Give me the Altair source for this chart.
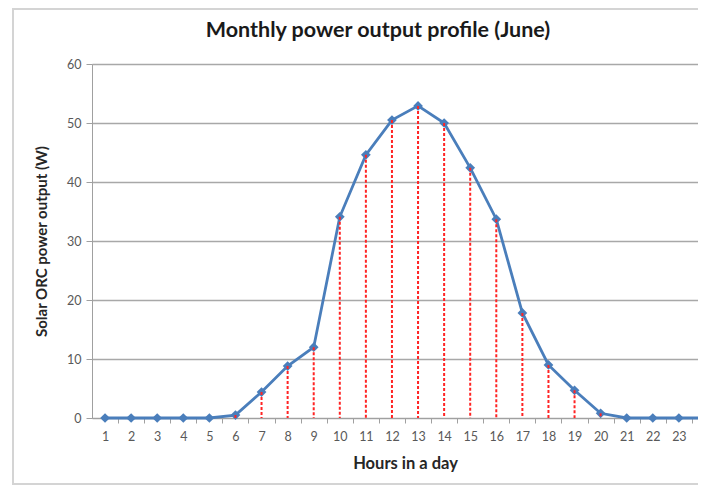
import altair as alt
import pandas as pd

hours = list(range(1, 25))
power = [0, 0, 0, 0, 0, 0.5, 4.4, 8.8, 12.0, 34.1, 44.6, 50.5, 52.9, 50.0,
         42.4, 33.7, 17.8, 9.0, 4.7, 0.8, 0, 0, 0, 0]
y_ticks = [0, 10, 20, 30, 40, 50, 60]
title_text = "Monthly power output profile (June)"

df = pd.DataFrame({"hour": hours, "power": power})

FONT = "Lato"
W, H = 606, 354

x_enc = alt.X(
    "hour:Q",
    scale=alt.Scale(domain=[0.5, 24.5], range=[0, 626], nice=False, zero=False),
    axis=alt.Axis(
        values=hours, title="Hours in a day", grid=False,
        tickOffset=13, labelOffset=-13, tickSize=5, tickColor="#a0a0a0",
        domainColor="#a0a0a0", labelColor="#595959", labelFontSize=12.5,
        labelPadding=7, titleFontSize=16.5, titleFontWeight="bold",
        titleColor="#262626", titlePadding=13, labelFont=FONT, titleFont=FONT,
    ),
)
y_enc = alt.Y(
    "power:Q",
    scale=alt.Scale(domain=[0, 60], nice=False),
    axis=alt.Axis(
        values=y_ticks, title="Solar ORC power output (W)", grid=True,
        gridColor="#a8a8a8", gridWidth=1.3, tickSize=6, tickColor="#a0a0a0",
        domainColor="#a0a0a0", labelColor="#595959", labelFontSize=12.5,
        labelPadding=5, titleFontSize=15, titleFontWeight="bold",
        titleColor="#262626", titlePadding=17, labelFont=FONT, titleFont=FONT,
    ),
)

base = alt.Chart(df)

line = base.mark_line(color="#4a7ebb", strokeWidth=2.8).encode(x=x_enc, y=y_enc)
points = base.mark_point(shape="diamond", filled=True, size=95, color="#4a7ebb",
                         opacity=1).encode(x=x_enc, y=y_enc)
rules = base.mark_rule(color="#ff2424", strokeWidth=2, strokeDash=[3, 2]).encode(
    x=x_enc, y=y_enc, y2=alt.datum(0)
)

single = alt.Data(values=[{"t": title_text}])

frame = alt.Chart(single).mark_rect(
    fillOpacity=0, stroke="#d4d4d4", strokeWidth=2, clip=False
).encode(
    x=alt.value(-79), x2=alt.value(720), y=alt.value(-55), y2=alt.value(420)
)

title = alt.Chart(single).mark_text(
    font=FONT, fontSize=21.5, fontWeight="bold", color="#1a1a1a",
    align="center", baseline="middle", clip=False
).encode(text="t:N", x=alt.value(286), y=alt.value(-33))

chart = alt.layer(frame, title, line, points, rules).properties(
    width=W, height=H,
    autosize=alt.AutoSizeParams(type="none"),
    padding={"left": 84, "top": 56, "right": 0, "bottom": 68},
).configure_view(stroke=None).configure(background="white")

chart.save("out.html", embed_options={"renderer": "svg", "actions": False})
